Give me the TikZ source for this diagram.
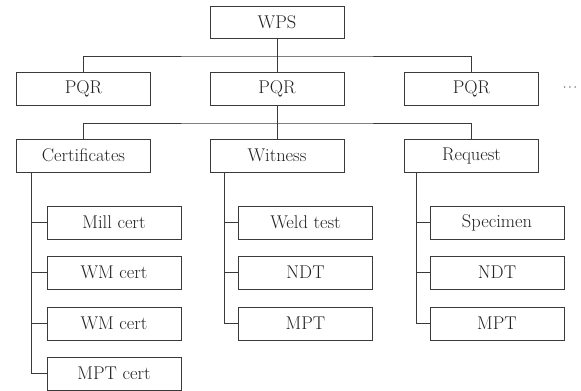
\documentclass[tikz,border=0pt]{standalone}
\definecolor{ink}{HTML}{3A3A3A}
\definecolor{letter}{HTML}{222222}
\begin{document}
\begin{tikzpicture}[x=1bp,y=-1bp,
  every node/.style={font=\fontsize{18.5}{22}\selectfont, text=letter},
  box/.style={draw=ink, line width=0.9bp, minimum width=134bp, minimum height=33bp, inner sep=0pt, fill=white},
  link/.style={draw=ink, line width=0.9bp}]
\useasboundingbox (0,0) rectangle (581,390);

% top level
\node[box, minimum height=32bp] (wps) at (277,22) {WPS};

% procedure qualification records
\node[box] (pqr1) at (83.5,88.5) {PQR};
\node[box] (pqr2) at (277,88.5) {PQR};
\node[box] (pqr3) at (471.5,88.5) {PQR};
\node[font=\fontsize{13}{15}\selectfont] (more) at (570,88) {$\cdots$};

% groups under the middle record
\node[box] (cert) at (83.5,155.5) {Certificates};
\node[box] (wit) at (277,155.5) {Witness};
\node[box] (req) at (471.5,155.5) {Request};

% certificates
\node[box] (c1) at (114,222.5) {Mill cert};
\node[box] (c2) at (114,272.5) {WM cert};
\node[box] (c3) at (114,323.5) {WM cert};
\node[box] (c4) at (114,373.5) {MPT cert};

% witness
\node[box] (w1) at (305.5,222.5) {Weld test};
\node[box] (w2) at (305.5,272.5) {NDT};
\node[box] (w3) at (305.5,323.5) {MPT};

% request
\node[box] (r1) at (497,222.5) {Specimen};
\node[box] (r2) at (497,272.5) {NDT};
\node[box] (r3) at (497,323.5) {MPT};

% buses between levels
\coordinate (bus1) at (277,56);
\coordinate (bus2) at (277,123);
\draw[link] (pqr1.north) |- (bus1) -| (pqr3.north);
\draw[link] (wps.south) -- (pqr2.north);
\draw[link] (cert.north) |- (bus2) -| (req.north);
\draw[link] (pqr2.south) -- (wit.north);

% trunks down each group
\coordinate (tc) at (31,172);
\coordinate (tw) at (224,172);
\coordinate (tr) at (416,172);
\draw[link] (tc) |- (c4.west);
\draw[link] (c1.west) -- (c1.west -| tc);
\draw[link] (c2.west) -- (c2.west -| tc);
\draw[link] (c3.west) -- (c3.west -| tc);
\draw[link] (tw) |- (w3.west);
\draw[link] (w1.west) -- (w1.west -| tw);
\draw[link] (w2.west) -- (w2.west -| tw);
\draw[link] (tr) |- (r3.west);
\draw[link] (r1.west) -- (r1.west -| tr);
\draw[link] (r2.west) -- (r2.west -| tr);
\end{tikzpicture}
\end{document}
